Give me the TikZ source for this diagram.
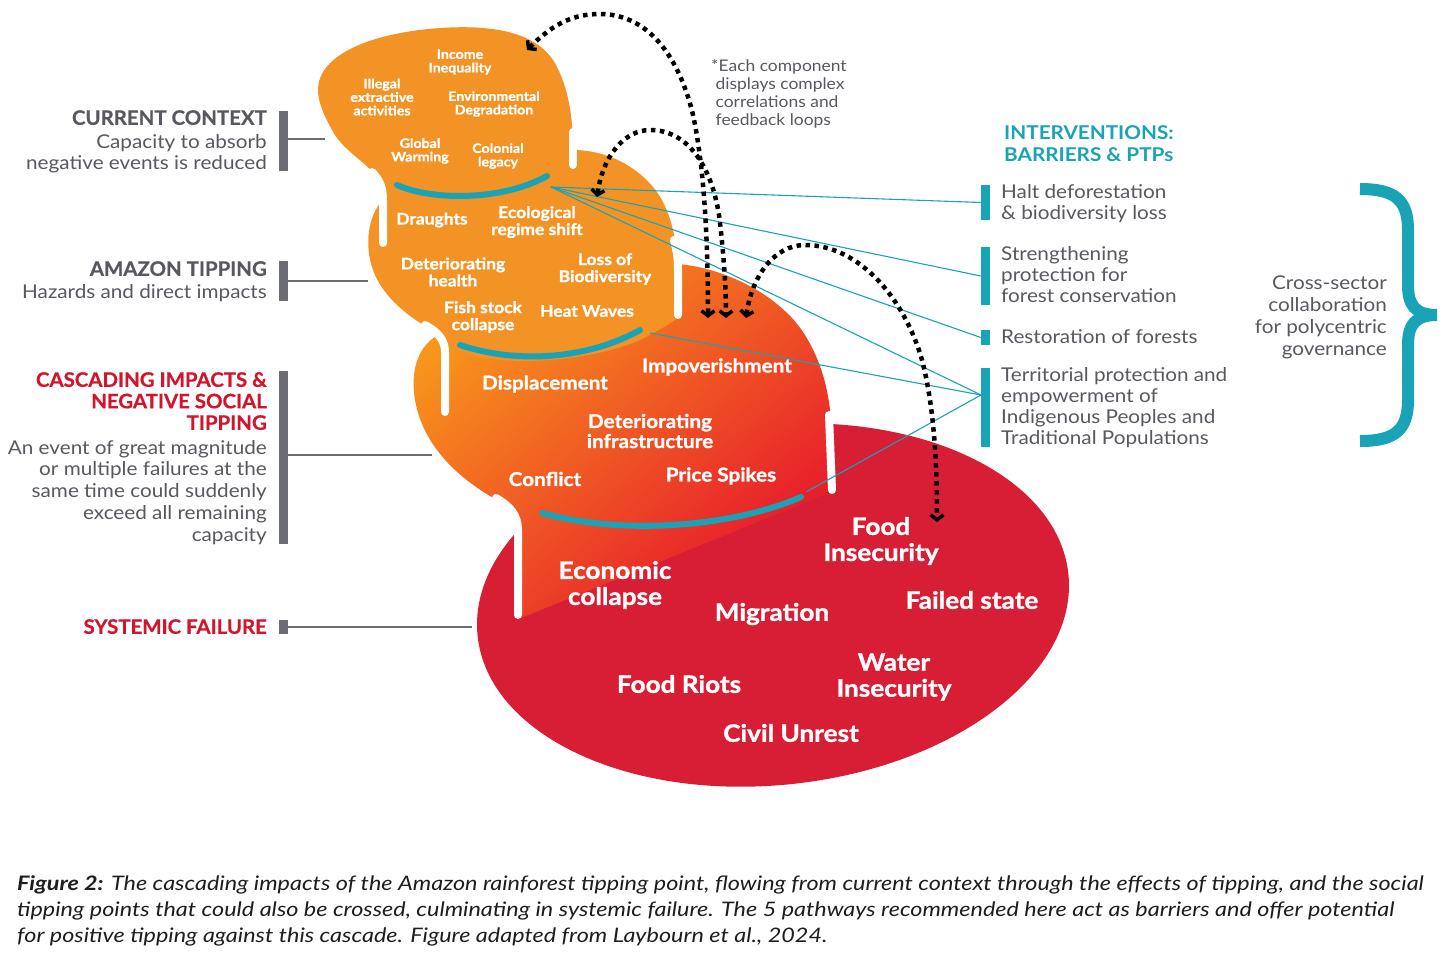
\documentclass[tikz,border=0pt]{standalone}
\usepackage{fontspec}
\setmainfont{Lato}[FakeStretch=1.09]
\newfontfamily\capfont{Lato}[FakeStretch=1.17]
\newfontfamily\headfont{Lato}[FakeStretch=1.02, BoldFeatures={FakeBold=0.6}]
\newfontfamily\heavyfont{Lato}[FakeStretch=1.09, BoldFeatures={FakeBold=1.2}]
\usetikzlibrary{arrows.meta}
\definecolor{orA}{RGB}{243,147,37}
\definecolor{orB}{RGB}{248,150,28}
\definecolor{orC}{RGB}{243,88,30}
\definecolor{redC}{RGB}{230,22,44}
\definecolor{redD}{RGB}{215,30,52}
\definecolor{tealA}{RGB}{25,163,183}
\definecolor{grayT}{RGB}{88,89,96}
\definecolor{grayB}{RGB}{108,109,116}
\definecolor{redL}{RGB}{210,21,44}
\definecolor{capT}{RGB}{30,30,30}
\begin{document}
\begin{tikzpicture}[x=1pt,y=-1pt,
  gbar/.style={fill=grayB, inner sep=0pt, minimum width=9pt},
  tbar/.style={fill=tealA, inner sep=0pt, minimum width=9pt},
  glink/.style={draw=grayB, line width=1.1pt},
  tlink/.style={draw=tealA, line width=1.1pt},
  lhead/.style={inner sep=0pt, anchor=north east, align=right, font=\headfont\bfseries\fontsize{20}{21.5}\selectfont},
  ldesc/.style={inner sep=0pt, anchor=north east, align=right, text=grayT, font=\fontsize{19}{21.7}\selectfont},
  rdesc/.style={inner sep=0pt, anchor=north west, align=left, text=grayT, font=\fontsize{19}{21}\selectfont},
  tA/.style={inner sep=0pt, align=center, text=white, font=\heavyfont\bfseries\fontsize{13}{13.5}\selectfont},
  tB/.style={inner sep=0pt, align=center, text=white, font=\heavyfont\bfseries\fontsize{16}{17}\selectfont},
  tC/.style={inner sep=0pt, align=center, text=white, font=\heavyfont\bfseries\fontsize{19}{20}\selectfont},
  tD/.style={inner sep=0pt, align=center, text=white, font=\heavyfont\bfseries\fontsize{24}{26}\selectfont},
  stub/.style={draw=white, line width=8pt, line cap=round},
  tarc/.style={draw=tealA, line width=6pt, line cap=round},
  loop/.style={draw=black, line width=4.5pt, dash pattern=on 4.5pt off 4.5pt,
    arrows={Straight Barb[length=5pt,width=13pt,line width=3.5pt]-Straight Barb[length=5pt,width=13pt,line width=3.5pt]}},
]
\useasboundingbox (0,0) rectangle (1456,962);
\fill[white] (0,0) rectangle (1456,962);

% ---- systemic failure (red ellipse)
\fill[redD, rotate around={6:(773,605)}] (773,605) ellipse [x radius=297, y radius=180];

% ---- cascading impacts (gradient)
\shade[top color=orB, middle color=orC, bottom color=redC, shading angle=40]
  (440,334) .. controls (520,300) and (600,270) .. (678,264)
  .. controls (725,268) and (780,295) .. (805,335)
  .. controls (825,368) and (831,400) .. (832,440)
  -- (832,492) -- (521,618) -- (518,535)
  .. controls (517,515) and (505,505) .. (490,496)
  .. controls (450,472) and (422,440) .. (415,400)
  .. controls (410,370) and (418,345) .. (440,334) -- cycle;

% ---- amazon tipping
\fill[orA] (383,190) .. controls (450,150) and (520,150) .. (573,150)
  .. controls (610,150) and (645,170) .. (662,200)
  .. controls (675,225) and (677,250) .. (677,270)
  -- (678,318)
  .. controls (660,330) and (650,335) .. (640,340)
  .. controls (600,358) and (520,368) .. (470,355)
  .. controls (455,350) and (445,342) .. (435,332)
  .. controls (410,318) and (383,298) .. (373,270)
  .. controls (364,245) and (368,215) .. (383,200) -- cycle;

% ---- current context
\fill[orA] (383,188) .. controls (375,165) and (345,155) .. (332,130)
  .. controls (322,112) and (318,100) .. (318,90)
  .. controls (318,55) and (370,33) .. (440,28)
  .. controls (500,24) and (540,35) .. (556,65)
  .. controls (568,88) and (573,115) .. (573,150)
  -- (573,170) -- (550,195) -- (400,200) -- cycle;

% ---- white drips
\draw[stub] (372,172) .. controls (380,180) and (383,188) .. (383,200) -- (383,243);
\draw[stub] (573,132) -- (573,165);
\draw[stub] (674,240) .. controls (677,252) and (678,258) .. (678,270) -- (678,315);
\draw[stub] (425,325) .. controls (438,332) and (445,340) .. (445,352) -- (445,412);
\draw[stub] (829,415) -- (832,490);
\draw[stub] (496,498) .. controls (510,506) and (518,515) .. (518,530) -- (518,615);

% ---- teal arcs
\draw[tarc] (397,185) .. controls (430,200) and (500,202) .. (547,176);
\draw[tarc] (460,345) .. controls (520,365) and (590,358) .. (640,330);
\draw[tarc] (542,513) .. controls (620,535) and (730,528) .. (801,497);
\coordinate (s1) at (551,187);
\coordinate (s2) at (650,333);
\coordinate (s3) at (806,492);

% ---- left labels
\node[lhead, text=grayT] (cc) at (267,110) {CURRENT CONTEXT};
\node[ldesc] (ccd) at (267,134) {Capacity to absorb\\negative events is reduced};
\node[lhead, text=grayT] (at) at (267,261) {AMAZON TIPPING};
\node[ldesc] (atd) at (267,284) {Hazards and direct impacts};
\node[lhead, text=redL] (ci) at (267,372) {CASCADING IMPACTS \&\\NEGATIVE SOCIAL\\TIPPING};
\node[ldesc] (cid) at (267,440) {An event of great magnitude\\or multiple failures at the\\same time could suddenly\\exceed all remaining\\capacity};
\node[lhead, text=redL] (sf) at (267,619) {SYSTEMIC FAILURE};

\node[gbar, minimum height=60pt] (g1) at (283,141) {};
\node[gbar, minimum height=40pt] (g2) at (283,281) {};
\node[gbar, minimum height=173pt] (g3) at (283,457.5) {};
\node[gbar, minimum height=14pt] (g4) at (283,627) {};
\coordinate (e1) at (325,139);
\coordinate (e2) at (368,281);
\coordinate (e3) at (432,455);
\coordinate (e4) at (472,627);
\draw[glink] (g1.east |- e1) -- (e1);
\draw[glink] (g2.east |- e2) -- (e2);
\draw[glink] (g3.east |- e3) -- (e3);
\draw[glink] (g4.east |- e4) -- (e4);

% ---- right: interventions
\node[inner sep=0pt, anchor=north west, align=left, text=tealA, font=\bfseries\fontsize{19}{22}\selectfont] (iv) at (1004,125) {INTERVENTIONS:\\BARRIERS \& PTPs};
\node[tbar, minimum height=35pt] (b1) at (985.5,202.5) {};
\node[tbar, minimum height=58pt] (b2) at (985.5,276) {};
\node[tbar, minimum height=15pt] (b3) at (985.5,337.5) {};
\node[tbar, minimum height=79pt] (b4) at (985.5,407.5) {};
\node[rdesc] (r1) at (1001,184) {Halt deforestation\\\& biodiversity loss};
\node[rdesc] (r2) at (1001,246) {Strengthening\\protection for\\forest conservation};
\node[rdesc] (r3) at (1001,329) {Restoration of forests};
\node[rdesc] (r4) at (1001,367) {Territorial protection and\\empowerment of\\Indigenous Peoples and\\Traditional Populations};
\coordinate (t4) at (981,395);
\draw[tlink] (s1) -- (b1.west);
\draw[tlink] (s1) -- (b2.west);
\draw[tlink] (s1) -- (b3.west);
\draw[tlink] (s1) -- (t4);
\draw[tlink] (s2) -- (t4);
\draw[tlink] (s3) -- (t4);

% ---- brace and governance
\draw[tealA, line width=12pt] (1360,189) .. controls (1395,189) and (1408,200) .. (1408,230) -- (1408,285)
  .. controls (1408,305) and (1415,315) .. (1437,315);
\draw[tealA, line width=12pt] (1437,315) .. controls (1415,315) and (1408,325) .. (1408,345) -- (1408,400)
  .. controls (1408,430) and (1395,441) .. (1360,441);
\node[ldesc] (gov) at (1387,276) {Cross-sector\\collaboration\\for polycentric\\governance};

% ---- note
\node[inner sep=0pt, anchor=north west, align=left, text=grayT, font=\fontsize{16}{18}\selectfont] (note) at (711,59) {*Each component\\\ displays complex\\\ correlations and\\\ feedback loops};

% ---- shape texts
\node[tA] (n1) at (460,62) {Income\\Inequality};
\node[tA] (n2) at (382,97) {Illegal\\extractive\\activities};
\node[tA] (n3) at (494,104) {Environmental\\Degradation};
\node[tA] (n4) at (420,151) {Global\\Warming};
\node[tA] (n5) at (498,156) {Colonial\\legacy};

\node[tB] (m1) at (432,220) {Draughts};
\node[tB] (m2) at (537,222) {Ecological\\regime shift};
\node[tB] (m3) at (453,272) {Deteriorating\\health};
\node[tB] (m4) at (605,269) {Loss of\\Biodiversity};
\node[tB] (m5) at (483,317) {Fish stock\\collapse};
\node[tB] (m6) at (587,311) {Heat Waves};

\node[tC] (c1) at (545,384) {Displacement};
\node[tC] (c2) at (717,367) {Impoverishment};
\node[tC] (c3) at (650,431) {Deteriorating\\infrastructure};
\node[tC] (c4) at (545,479) {Conflict};
\node[tC] (c5) at (721,476) {Price Spikes};

\node[tD] (d1) at (881,541) {Food\\Insecurity};
\node[tD] (d2) at (615,585) {Economic\\collapse};
\node[tD] (d3) at (772,614) {Migration};
\node[tD] (d4) at (972,600) {Failed state};
\node[tD] (d5) at (894,677) {Water\\Insecurity};
\node[tD] (d6) at (679,684) {Food Riots};
\node[tD] (d7) at (791,733) {Civil Unrest};

% ---- feedback loops
\coordinate (a1) at (527,50);  \coordinate (a2) at (708,318);
\coordinate (b1s) at (597,197); \coordinate (b2s) at (726,318);
\coordinate (c1s) at (746,318); \coordinate (c2s) at (937,522);
\draw[loop] (a1) .. controls (555,22) and (575,14) .. (600,14)
  .. controls (650,14) and (680,60) .. (693,115)
  .. controls (705,170) and (708,250) .. (a2);
\draw[loop] (b1s) .. controls (603,155) and (625,130) .. (650,130)
  .. controls (690,130) and (712,170) .. (719,215)
  .. controls (724,255) and (726,290) .. (b2s);
\draw[loop] (c1s) .. controls (752,275) and (775,245) .. (805,245)
  .. controls (860,245) and (905,300) .. (922,360)
  .. controls (935,410) and (937,470) .. (c2s);

% ---- caption
\node[inner sep=0pt, anchor=north west, align=left, text=capT, font=\capfont\itshape\fontsize{20}{26}\selectfont] (cap) at (17,875)
 {\textbf{Figure 2:} The cascading impacts of the Amazon rainforest tipping point, flowing from current context through the effects of tipping, and the social\\
 tipping points that could also be crossed, culminating in systemic failure. The 5 pathways recommended here act as barriers and offer potential\\
 for positive tipping against this cascade. Figure adapted from Laybourn et al., 2024.};
\end{tikzpicture}
\end{document}
